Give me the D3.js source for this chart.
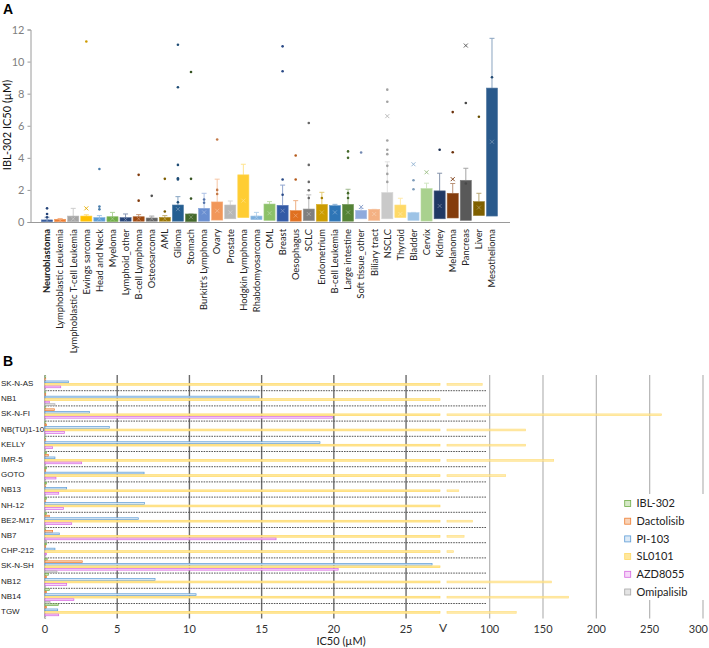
<!DOCTYPE html>
<html><head><meta charset="utf-8">
<script src="https://cdn.jsdelivr.net/npm/d3@7"></script>
<style>body{margin:0;background:#fff}svg{display:block}</style>
</head><body>
<script>
// ---------- Panel A data ----------
const categories = ["Neuroblastoma","Lymphoblastic Leukemia","Lymphoblastic T-cell Leukemia","Ewings sarcoma","Head and Neck","Myeloma","Lymphoid_other","B-cell Lymphoma","Osteosarcoma","AML","Glioma","Stomach","Burkitt's Lymphoma","Ovary","Prostate","Hodgkin Lymphoma","Rhabdomyosarcoma","CML","Breast","Oesophagus","SCLC","Endometrium","B-cell Leukemia","Large intestine","Soft tissue_other","Biliary tract","NSCLC","Thyroid","Bladder","Cervix","Kidney","Melanoma","Pancreas","Liver","Mesothelioma"];
const boxLow  = [0.02,0.02,0.02,0.05,0.05,0.02,0.05,0.05,0.05,0.05,0.05,0.02,0.05,0.12,0.2,0.27,0.15,0.1,0.05,0.05,0.08,0.05,0.05,0.05,0.2,0.1,0.2,0.27,0.1,0.06,0.2,0.25,0.1,0.4,0.37];
const boxHigh = [0.13,0.17,0.37,0.37,0.27,0.33,0.27,0.33,0.25,0.29,1.06,0.5,0.85,1.25,1.06,2.94,0.37,1.12,1.04,0.71,0.81,1.1,1.02,1.1,0.73,0.79,1.83,1.06,0.58,2.08,1.94,1.79,2.6,1.27,8.35];
const whiskerHigh = [0.3,0.22,0.85,0.45,0.4,0.6,0.5,0.46,0.37,0.4,1.58,0.5,1.79,2.67,1.31,3.6,0.6,1.27,2.3,1.33,1.69,1.85,1.1,2.04,0.85,0.79,3.75,1.48,0.6,2.42,3.04,2.4,3.35,1.79,11.45];
const means = [0.08,0.1,0.2,0.85,0.2,0.2,0.15,0.2,0.2,0.2,0.8,0.3,0.6,0.7,0.6,1.33,0.3,0.55,0.7,0.4,0.5,0.6,0.6,0.6,0.94,0.5,6.6,0.5,3.6,3.1,1.0,2.67,11.0,0.9,5.0];
const outliers = [[0.85,0.5,0.3],[],[],[11.25],[3.3,0.96,0.79],[],[],[2.94,1.33],[1.63],[2.69,0.65],[11.05,8.4,3.56,2.73,2.65,1.23],[9.35,2.69,1.46],[1.4,1.2],[5.14,2.0,1.75],[],[],[],[],[10.95,9.4,2.65,1.7],[4.15,2.65],[6.17,3.56,2.5,1.98,1.5],[1.5],[],[4.4,4.0,1.8,1.5],[4.33],[],[8.25,7.5,5.08,4.5,4.23,3.5,3.0,2.5],[],[2.6,2.04],[],[4.5],[6.85,4.35],[7.42,2.4],[6.56],[9.02]];
const yTicksA = [0,2,4,6,8,10,12];
const paletteA = ["#2f5597","#ed7d31","#a5a5a5","#ffc000","#5b9bd5","#70ad47","#264478","#9e480e","#636363","#997300","#255e91","#43682b","#698ed0","#f1975a","#b7b7b7","#ffcd33","#7cafdd","#8cc168","#335aa6","#e07020","#7f7f7f","#cc9c00","#2e75b6","#548235","#8faadc","#f4b183","#c9c9c9","#ffd966","#9dc3e6","#a9d18e","#203864","#843c0c","#595959","#7f6000","#2a5a8c"];

// ---------- Panel B data ----------
const cellLines = ["SK-N-AS","NB1","SK-N-FI","NB(TU)1-10","KELLY","IMR-5","GOTO","NB13","NH-12","BE2-M17","NB7","CHP-212","SK-N-SH","NB12","NB14","TGW"];
const drugs = ["IBL-302","Dactolisib","PI-103","SL0101","AZD8055","Omipalisib"];
const ibl302     = [0.05,0.05,0.05,0.05,0.05,0.1,0.1,0.1,0.1,0.1,0.05,0.1,0.15,0.23,0.3,0.92];
const dactolisib = [0.05,0.05,0.65,0.1,0.05,0.23,0.05,0.05,0.05,0.3,0.53,0.05,2.58,0.1,0.1,0.1];
const pi103      = [1.62,14.82,3.07,4.45,19.04,0.69,6.86,1.5,6.88,6.46,0.99,0.69,26.8,7.62,10.46,0.88];
const sl0101     = [93,45,261,133.7,133.7,160,115,71,45,83.8,76,66,45,157.8,174,124.9];
const azd8055    = [1.09,0.3,19.9,1.34,0.53,2.54,0.76,0.95,1.27,1.85,16.0,0.1,20.3,1.5,2.0,0.95];
const omipalisib = [0.05,0.69,0.05,0.05,0.05,0.05,0.05,0.05,0.05,0.05,0.1,0.05,0.83,0.05,0.35,0.05];
const seriesB = [ibl302,dactolisib,pi103,sl0101,azd8055,omipalisib];
const ticksLeft = [0,5,10,15,20,25];
const ticksRight = [100,150,200,250,300];
const strokeB = ["#70ad47","#ed7d31","#5b9bd5","#ffd966","#d667e0","#a6a6a6"];
const fillB   = ["#d5e8c6","#f9d3b8","#dceaf7","#ffe79c","#f6d6f8","#e4e4e4"];

const W = 709, H = 648;
const svg = d3.select("body").append("svg").attr("width", W).attr("height", H);
const font = "Lato, 'Noto Sans', sans-serif";

// ================= Panel A =================
svg.append("text").attr("x",3).attr("y",14).text("A")
  .attr("font-family","'Liberation Sans', Arial, sans-serif").attr("font-weight","bold").attr("font-size",14);

const xA = d3.scaleBand().domain(categories).range([41.5, 41.5 + 13.03*35]).paddingInner(0.15).paddingOuter(0);
const yA = d3.scaleLinear().domain([0,12]).range([222, 29.5]);
const gA = svg.append("g");

const yAxis = d3.axisLeft(yA).tickValues(yTicksA).tickSize(3).tickPadding(3);
const ya = gA.append("g").attr("transform","translate(30.5,0)").call(yAxis);
ya.select(".domain").attr("stroke","#9a9a9a");
ya.selectAll(".tick line").attr("stroke","#9a9a9a");
ya.selectAll(".tick text").attr("fill","#7f7f7f").attr("font-family",font).attr("font-size",11);
gA.append("line").attr("x1",30.5).attr("x2",510).attr("y1",222.5).attr("y2",222.5).attr("stroke","#9a9a9a");

gA.append("text").attr("transform","translate(11,125) rotate(-90)").attr("text-anchor","middle")
  .attr("font-family",font).attr("font-size",11).attr("fill","#111").text("IBL-302 IC50 (µM)");

categories.forEach((c,i)=>{
  const col = paletteA[i];
  const light = d3.interpolateRgb(col,"#ffffff")(0.45);
  const x0 = xA(c), bw = xA.bandwidth(), cx = x0 + bw/2;
  gA.append("line").attr("x1",cx).attr("x2",cx).attr("y1",yA(boxHigh[i])).attr("y2",yA(whiskerHigh[i]))
    .attr("stroke",light).attr("stroke-width",1);
  gA.append("line").attr("x1",cx-2.5).attr("x2",cx+2.5).attr("y1",yA(whiskerHigh[i])).attr("y2",yA(whiskerHigh[i]))
    .attr("stroke",light).attr("stroke-width",1);
  gA.append("rect").attr("x",x0).attr("width",bw).attr("y",yA(boxHigh[i]))
    .attr("height",Math.max(0.8, yA(boxLow[i]) - yA(boxHigh[i]))).attr("fill",col)
    .attr("stroke",d3.interpolateRgb(col,"#ffffff")(0.2)).attr("stroke-width",0.6);
  const my = yA(means[i]);
  const inside = means[i] <= boxHigh[i] && means[i] >= boxLow[i];
  const mcol = inside ? light : d3.color(col).darker(0.3).formatHex();
  gA.append("path").attr("d",`M${cx-2},${my-2}L${cx+2},${my+2}M${cx-2},${my+2}L${cx+2},${my-2}`)
    .attr("stroke",mcol).attr("stroke-width",0.9).attr("fill","none").attr("opacity", inside ? 0.7 : 1);
  outliers[i].forEach(v=>{
    gA.append("circle").attr("cx",cx).attr("cy",yA(v)).attr("r",1.3).attr("fill",d3.color(col).darker(0.6).formatHex());
  });
  gA.append("text").attr("transform",`translate(${cx},229) rotate(-90)`).attr("dy","0.35em")
    .attr("text-anchor","end").attr("font-family",font).attr("font-size",9.4).attr("fill","#222")
    .attr("font-weight", i===0 ? "bold" : "normal").text(c);
});

// ================= Panel B =================
svg.append("text").attr("x",3).attr("y",366).text("B")
  .attr("font-family","'Liberation Sans', Arial, sans-serif").attr("font-weight","bold").attr("font-size",14);

const yB = d3.scaleBand().domain(cellLines).range([375.5, 375.5 + 15.2*16]).padding(0);
const sub = d3.scaleBand().domain(drugs).range([0, yB.bandwidth()]).padding(0);
const xL = d3.scaleLinear().domain([0, 27.35]).range([45, 440]);
const xR = d3.scaleLinear().domain([60, 300]).range([447, 703]);
const gB = svg.append("g");
const gridTop = 375, gridBot = 618.5;

ticksRight.forEach(t=>{
  gB.append("line").attr("x1",xR(t)).attr("x2",xR(t)).attr("y1",gridTop).attr("y2",gridBot)
    .attr("stroke","#b5b5b5").attr("stroke-width",1.2);
});
ticksLeft.forEach(t=>{
  gB.append("line").attr("x1",xL(t)).attr("x2",xL(t)).attr("y1",gridTop).attr("y2",gridBot)
    .attr("stroke", t===0 ? "#8a8a8a" : "#6b6b6b").attr("stroke-width",1.4);
});
cellLines.slice(1).forEach(c=>{
  gB.append("line").attr("x1",45).attr("x2",487).attr("y1",yB(c)).attr("y2",yB(c))
    .attr("stroke","#444").attr("stroke-width",0.9).attr("stroke-dasharray","1.6,1");
});

seriesB.forEach((vals,k)=>{
  vals.forEach((v,i)=>{
    const y0 = yB(cellLines[i]) + sub(drugs[k]) + 0.4;
    const h = sub.bandwidth() - 0.8;
    const vl = Math.min(v, 27.35);
    gB.append("rect").attr("x",xL(0)).attr("y",y0).attr("width",Math.max(0.5, xL(vl)-xL(0))).attr("height",h)
      .attr("fill",fillB[k]).attr("stroke",strokeB[k]).attr("stroke-width",0.7);
    if (v > 60) {
      gB.append("rect").attr("x",xR(60)).attr("y",y0).attr("width",xR(v)-xR(60)).attr("height",h)
        .attr("fill",fillB[k]).attr("stroke",strokeB[k]).attr("stroke-width",0.7).attr("opacity",0.8);
    }
  });
});

cellLines.forEach(c=>{
  gB.append("text").attr("x",1).attr("y",yB(c)+yB.bandwidth()/2).attr("dy","0.35em")
    .attr("font-family","'Liberation Sans', Arial, sans-serif").attr("font-size",8).attr("fill","#222").text(c);
});

const tickFont = 11;
ticksLeft.forEach(t=>{
  gB.append("text").attr("x",xL(t)).attr("y",633).attr("text-anchor","middle")
    .attr("font-family",font).attr("font-size",tickFont).attr("fill","#333").text(t);
});
ticksRight.forEach(t=>{
  const x = xR(t);
  const fits = x + 10 < W;
  gB.append("text").attr("x", fits ? x : W - 1).attr("y",633).attr("text-anchor", fits ? "middle" : "end")
    .attr("font-family",font).attr("font-size",tickFont).attr("fill","#333").text(t);
});
gB.append("text").attr("x",443).attr("y",632).attr("text-anchor","middle")
  .attr("font-family",font).attr("font-size",12).attr("fill","#333").text("V");
gB.append("text").attr("x",341).attr("y",645).attr("text-anchor","middle")
  .attr("font-family",font).attr("font-size",11).attr("fill","#222").text("IC50 (µM)");

const lg = gB.append("g");
lg.append("rect").attr("x",620).attr("y",494).attr("width",85).attr("height",106).attr("fill","#fff");
drugs.forEach((d,k)=>{
  const ly = 503.5 + k*17.7;
  lg.append("rect").attr("x",624.7).attr("y",ly-3).attr("width",6).attr("height",6)
    .attr("fill",fillB[k]).attr("stroke",strokeB[k]).attr("stroke-width",0.8);
  lg.append("text").attr("x",636.5).attr("y",ly).attr("dy","0.35em")
    .attr("font-family",font).attr("font-size",11).attr("fill","#222").text(d);
});
</script>
</body></html>
